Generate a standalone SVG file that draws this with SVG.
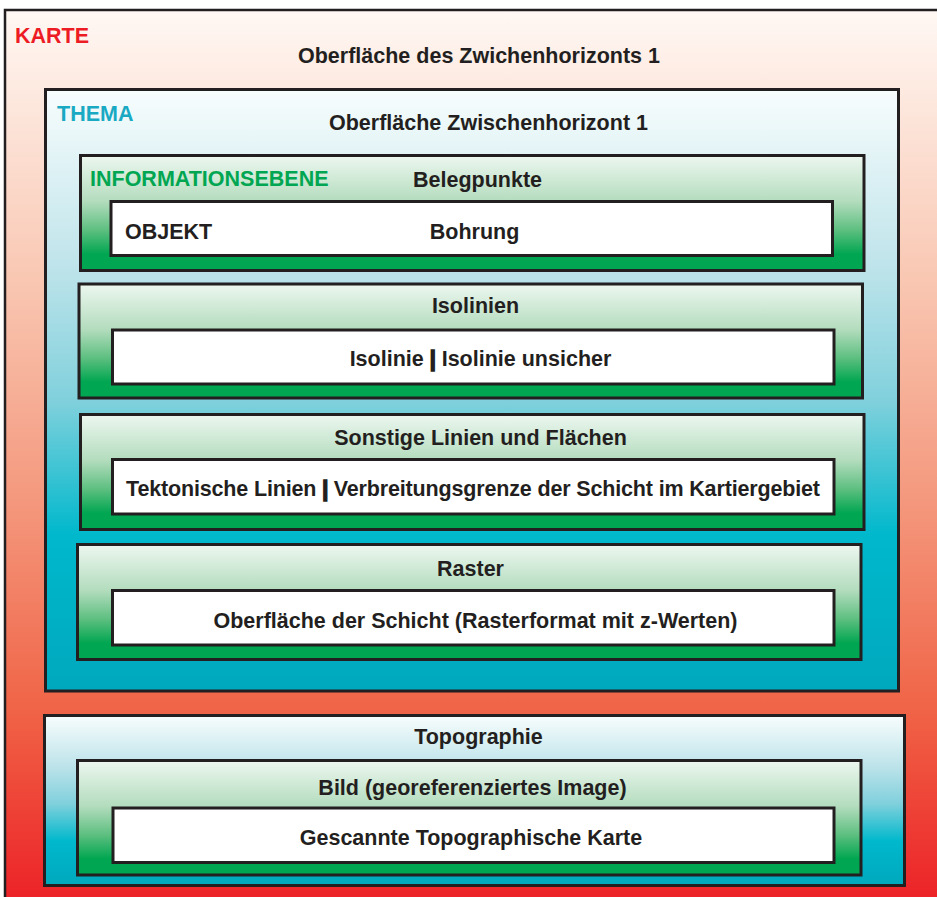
<svg xmlns="http://www.w3.org/2000/svg" width="937" height="897" viewBox="0 0 937 897">
<defs>
<linearGradient id="gRed" x1="0" y1="0" x2="0" y2="1">
<stop offset="0" stop-color="#fff8f4"/>
<stop offset="0.3" stop-color="#f9c7b2"/>
<stop offset="0.55" stop-color="#f4977c"/>
<stop offset="0.78" stop-color="#f06346"/>
<stop offset="1" stop-color="#ec1f26"/>
</linearGradient>
<linearGradient id="gBlue" x1="0" y1="0" x2="0" y2="1">
<stop offset="0" stop-color="#f8fdfd"/>
<stop offset="0.3" stop-color="#bde3ea"/>
<stop offset="0.52" stop-color="#7fd0dc"/>
<stop offset="0.74" stop-color="#00b8cc"/>
<stop offset="1" stop-color="#00a8bd"/>
</linearGradient>
<linearGradient id="gGreen" x1="0" y1="0" x2="0" y2="1">
<stop offset="0" stop-color="#edf7f0"/>
<stop offset="0.4" stop-color="#b3dcbd"/>
<stop offset="0.65" stop-color="#5dbf80"/>
<stop offset="0.86" stop-color="#00a651"/>
<stop offset="1" stop-color="#00a651"/>
</linearGradient>
</defs>
<style>
.box{stroke:#231f20;stroke-width:3}
.white{fill:#ffffff;stroke:#231f20;stroke-width:3}
.t{font-family:"Liberation Sans",Arial,sans-serif;font-weight:bold;font-size:21.5px;fill:#231f20}
.c{text-anchor:middle}
.bar{stroke:#231f20;stroke-width:1.6}
</style>
<g id="karte">
<rect x="5" y="10" width="940" height="900" fill="url(#gRed)" stroke="#231f20" stroke-width="2.5"/>
<text class="t" x="15" y="43" style="fill:#ed1c24">KARTE</text>
<text class="t c" x="479" y="63">Oberfläche des Zwichenhorizonts 1</text>
</g>
<g id="thema">
<rect class="box" x="45.5" y="89.5" width="853" height="601.5" fill="url(#gBlue)"/>
<text class="t" x="57" y="121" style="fill:#1aa9c3">THEMA</text>
<text class="t c" x="488.5" y="130">Oberfläche Zwischenhorizont 1</text>
</g>
<g id="belegpunkte">
<rect class="box" x="80.5" y="155.5" width="783.5" height="115" fill="url(#gGreen)"/>
<text class="t" x="90" y="186" style="fill:#00a651">INFORMATIONSEBENE</text>
<text class="t c" x="477.5" y="187">Belegpunkte</text>
</g>
<g id="bohrung">
<rect class="white" x="111" y="201.5" width="721.5" height="54"/>
<text class="t" x="125" y="239">OBJEKT</text>
<text class="t c" x="474.5" y="239">Bohrung</text>
</g>
<g id="isolinien">
<rect class="box" x="79" y="284" width="783.5" height="114" fill="url(#gGreen)"/>
<text class="t c" x="475.5" y="313">Isolinien</text>
</g>
<g id="isolinie">
<rect class="white" x="112.5" y="330" width="721.5" height="54"/>
<text class="t c" x="480.5" y="366">Isolinie <tspan class="bar">|</tspan> Isolinie unsicher</text>
</g>
<g id="sonstige">
<rect class="box" x="80.5" y="414.5" width="783.5" height="115" fill="url(#gGreen)"/>
<text class="t c" x="480.5" y="445">Sonstige Linien und Flächen</text>
</g>
<g id="tektonische">
<rect class="white" x="112.5" y="459.5" width="721.5" height="54.5"/>
<text class="t c" x="473" y="496" textLength="694" lengthAdjust="spacing">Tektonische Linien <tspan class="bar">|</tspan> Verbreitungsgrenze der Schicht im Kartiergebiet</text>
</g>
<g id="raster">
<rect class="box" x="77.5" y="544.5" width="783.5" height="115" fill="url(#gGreen)"/>
<text class="t c" x="470.5" y="576">Raster</text>
</g>
<g id="oberflaeche-schicht">
<rect class="white" x="112.5" y="590.5" width="721.5" height="54.5"/>
<text class="t c" x="475.5" y="627.5">Oberfläche der Schicht (Rasterformat mit z-Werten)</text>
</g>
<g id="topographie">
<rect class="box" x="44.5" y="715.5" width="860" height="170" fill="url(#gBlue)"/>
<text class="t c" x="478.5" y="744">Topographie</text>
</g>
<g id="bild">
<rect class="box" x="77.5" y="760.5" width="783.5" height="114.5" fill="url(#gGreen)"/>
<text class="t c" x="472.5" y="795">Bild (georeferenziertes Image)</text>
</g>
<g id="gescannte">
<rect class="white" x="113" y="808" width="721" height="54.5"/>
<text class="t c" x="471" y="845">Gescannte Topographische Karte</text>
</g>
<g id="connectors"/>
</svg>
